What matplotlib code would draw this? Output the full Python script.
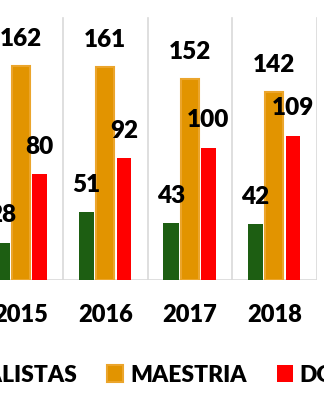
import matplotlib.pyplot as plt
import numpy as np
from matplotlib.patches import Patch

# graduates per year and programme level
years = ['2015', '2016', '2017', '2018']
especialistas = [28, 51, 43, 42]
maestria = [162, 161, 152, 142]
doctorado = [80, 92, 100, 109]

series_names = ['ESPECIALISTAS', 'MAESTRIA', 'DOCTORADO']
colors = ['#1D5E12', '#E29400', '#FF0000']

plt.rcParams['font.family'] = ['Lato', 'DejaVu Sans']

fig = plt.figure(figsize=(3.24, 4.0), dpi=100)
# plot area runs a little past the left edge of the figure
ax = fig.add_axes([-21.5 / 324, 0.30125, 338 / 324, 0.66])

x = np.arange(len(years))
offsets = [-0.222, 0.0, 0.222]
widths = [0.178, 0.21, 0.174]

for vals, off, w, c, name in zip([especialistas, maestria, doctorado],
                                 offsets, widths, colors, series_names):
    if name == 'MAESTRIA':
        bars = ax.bar(x + off, vals, w, color=c, edgecolor='#EBA52C',
                      linewidth=1.5, zorder=3)
    else:
        bars = ax.bar(x + off, vals, w, color=c, linewidth=0, zorder=3)
    for b, v in zip(bars, vals):
        ax.annotate(str(v), (b.get_x() + b.get_width() / 2, v),
                    xytext=(0, 14.5), textcoords='offset points',
                    ha='center', va='baseline', fontsize=17.5,
                    fontweight='heavy', color='black', zorder=4)

# category separators and base line
for xb in np.arange(-0.5, len(years), 1.0):
    ax.axvline(xb, ymax=0.99, color='#D9D9D9', linewidth=1.2, zorder=1)
ax.axhline(0, color='#D9D9D9', linewidth=1.2, zorder=2)

ax.set_xlim(-0.5, len(years) - 0.5)
ax.set_ylim(0, 200)
ax.set_yticks([])
ax.set_xticks(x, years, fontsize=17, fontweight='heavy')
ax.tick_params(axis='x', length=0, pad=18)
for s in ax.spines.values():
    s.set_visible(False)

handles = [Patch(facecolor=colors[0], linewidth=0),
           Patch(facecolor=colors[1], edgecolor='#EBA52C', linewidth=1.5),
           Patch(facecolor=colors[2], linewidth=0)]
fig.legend(handles, series_names, loc='center left',
           bbox_to_anchor=(-0.348, 1 - 375 / 400), ncol=3, frameon=False,
           prop={'weight': 'heavy', 'size': 16.5},
           handlelength=0.7, handleheight=0.8, handletextpad=0.3,
           columnspacing=1.32, borderpad=0, borderaxespad=0)

fig.savefig('out.png', dpi=100)
